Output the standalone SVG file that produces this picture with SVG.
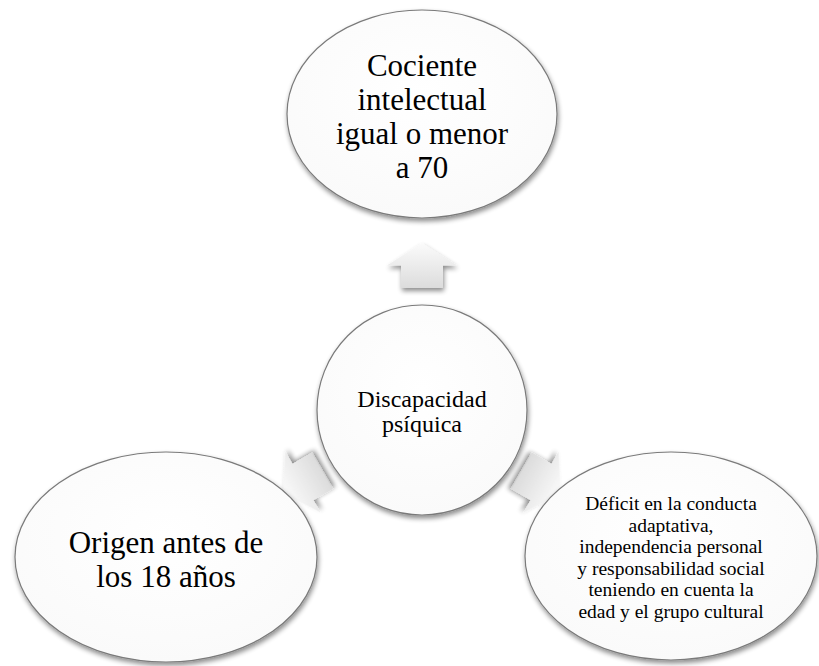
<svg xmlns="http://www.w3.org/2000/svg" width="819" height="666" viewBox="0 0 819 666">
<defs>
<filter id="sh" x="-20%" y="-20%" width="140%" height="150%">
<feGaussianBlur in="SourceAlpha" stdDeviation="2.5"/>
<feOffset dx="1" dy="3" result="b"/>
<feComponentTransfer><feFuncA type="linear" slope="0.45"/></feComponentTransfer>
<feMerge><feMergeNode/><feMergeNode in="SourceGraphic"/></feMerge>
</filter>
<linearGradient id="ag" x1="0" y1="0" x2="0" y2="1">
<stop offset="0" stop-color="#fbfbfb"/>
<stop offset="1" stop-color="#dcdcdc"/>
</linearGradient>
<radialGradient id="eg" cx="0.5" cy="0.4" r="0.6">
<stop offset="0" stop-color="#ffffff"/>
<stop offset="1" stop-color="#fafafa"/>
</radialGradient>
<path id="arrow" d="M0,-22.5 L35,0 L21,0 L21,22.5 L-21,22.5 L-21,0 L-35,0 Z"/>
</defs>
<style>
.node{fill:url(#eg);stroke:#7a7a7a;stroke-width:1.2;filter:url(#sh)}
.arr{fill:url(#ag);filter:url(#sh)}
.t{font-family:'Liberation Serif','DejaVu Serif','Times New Roman',serif;fill:#000;text-anchor:middle}
.big{font-size:31px}
.mid{font-size:24px}
.sml{font-size:19.5px}
</style>
<rect width="819" height="666" fill="#ffffff"/>
<g id="connectors">
<use href="#arrow" class="arr" transform="translate(422,265.5)"/>
<use href="#arrow" class="arr" transform="translate(303,482) rotate(-120)"/>
<use href="#arrow" class="arr" transform="translate(541,482) rotate(120)"/>
</g>
<g id="top">
<ellipse class="node" cx="422" cy="114" rx="135" ry="104"/>
<text class="t big"><tspan x="422" y="76">Cociente</tspan><tspan x="422" y="110">intelectual</tspan><tspan x="422" y="144">igual o menor</tspan><tspan x="422" y="178">a 70</tspan></text>
</g>
<g id="center">
<circle class="node" cx="422" cy="410" r="105"/>
<text class="t mid"><tspan x="422" y="407">Discapacidad</tspan><tspan x="422" y="432">psíquica</tspan></text>
</g>
<g id="left">
<ellipse class="node" cx="166" cy="557" rx="151" ry="105"/>
<text class="t big"><tspan x="166" y="553">Origen antes de</tspan><tspan x="166" y="587">los 18 años</tspan></text>
</g>
<g id="right">
<ellipse class="node" cx="671" cy="556" rx="146" ry="104"/>
<text class="t sml"><tspan x="671" y="510">Déficit en la conducta</tspan><tspan x="671" y="531.5">adaptativa,</tspan><tspan x="671" y="553">independencia personal</tspan><tspan x="671" y="574.5">y responsabilidad social</tspan><tspan x="671" y="596">teniendo en cuenta la</tspan><tspan x="671" y="617.5">edad y el grupo cultural</tspan></text>
</g>
</svg>
